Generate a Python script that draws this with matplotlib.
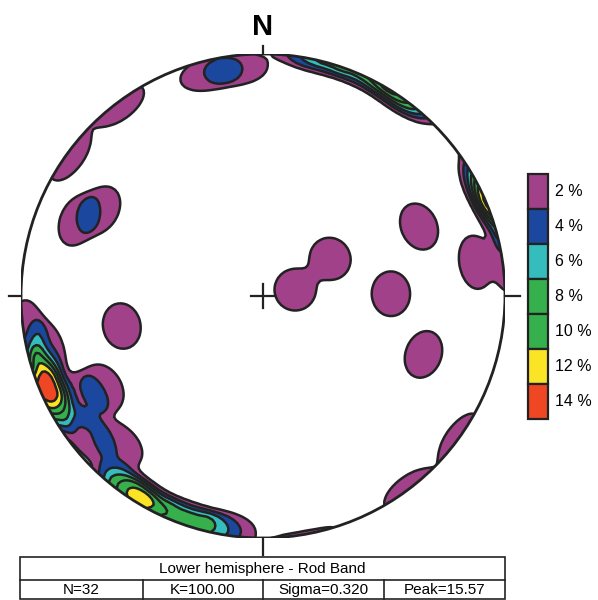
import numpy as np
import matplotlib
matplotlib.use("Agg")
import matplotlib.pyplot as plt
from matplotlib.patches import Circle, Rectangle

plt.rcParams['font.family'] = ['Liberation Sans', 'DejaVu Sans']

# rod axes (trend, plunge) in degrees
trends = [79, 61, 66, 89, 110, 258, 292, 298, 306, 323, 81, 346, 354,
          243, 249, 246, 244, 250, 256, 262, 240, 231, 224, 240,
          213, 217, 215, 209, 204, 199, 194, 189]
plunges = [79, 64, 30, 46, 30, 40, 18, 25, 1, 1, 12, 6, 6,
           1, 2, 4, 3, 5, 9, 2, 16, 8, 16, 25,
           1, 2, 4, 3, 2, 3, 2, 3]

levels = [2, 4, 6, 8, 10, 12, 14]
level_colors = ['#a0418a', '#1b479e', '#35bdbd', '#35b04c', '#35b04c', '#fbe425', '#ef4623']
level_labels = ['2 %', '4 %', '6 %', '8 %', '10 %', '12 %', '14 %']

title = "Lower hemisphere - Rod Band"
stats = ["N=32", "K=100.00", "Sigma=0.320", "Peak=15.57"]

# counting cap with a soft edge (degrees)
cap_radius = 7.65
cap_edge = 1.2

# pole unit vectors (east, north, down)
tr = np.radians(trends)
pl = np.radians(plunges)
poles = np.stack([np.cos(pl) * np.sin(tr), np.cos(pl) * np.cos(tr), np.sin(pl)], axis=1)

# grid in equal-area projection
n = 161
xs = np.linspace(-1, 1, n)
X, Y = np.meshgrid(xs, xs)
R = np.hypot(X, Y)
phi = 2 * np.arcsin(np.clip(R, 0, 1) / np.sqrt(2))
with np.errstate(invalid='ignore', divide='ignore'):
    ux = np.where(R > 0, X / R, 0.0)
    uy = np.where(R > 0, Y / R, 0.0)
grid = np.stack([np.sin(phi) * ux, np.sin(phi) * uy, np.cos(phi)], axis=-1)
ang = np.degrees(np.arccos(np.clip(np.abs(grid @ poles.T), 0, 1)))
weights = 1.0 / (1.0 + np.exp((ang - cap_radius) / cap_edge))
density = 100.0 * weights.sum(axis=-1) / len(trends)
density = np.ma.masked_where(R > 1.02, density)

fig = plt.figure(figsize=(5.98, 6.0), dpi=100)
W, H = 598.0, 600.0
cx, cy, rad = 263.0, 296.0, 242.0
ax = fig.add_axes([(cx - rad) / W, 1 - (cy + rad) / H, 2 * rad / W, 2 * rad / H])
ax.set_xlim(-1, 1)
ax.set_ylim(-1, 1)
ax.set_aspect('equal')
ax.axis('off')

ax.contourf(X, Y, density, levels=levels + [100], colors=level_colors)
ax.contour(X, Y, density, levels=levels, colors='#222222', linewidths=1.8)
clip = Circle((0, 0), 1.0, transform=ax.transData)
for coll in ax.collections:
    coll.set_clip_path(clip)
ax.add_patch(Circle((0, 0), 1.0, fill=False, lw=2, ec='#222222'))

# ticks and centre cross
tk = dict(color='#222222', lw=1.6, clip_on=False)
ax.plot([-1.05, -1.0], [0, 0], **tk)
ax.plot([1.0, 1.06], [0, 0], **tk)
ax.plot([0, 0], [1.0, 1.035], **tk)
ax.plot([0, 0], [-1.0, -1.07], **tk)
ax.plot([-0.05, 0.05], [0, 0], **tk)
ax.plot([0, 0], [-0.05, 0.05], **tk)
ax.text(0, 1.055, 'N', ha='center', va='bottom', fontsize=21, fontweight='bold')

# legend boxes
lax = fig.add_axes([0, 0, 1, 1])
lax.set_xlim(0, W)
lax.set_ylim(H, 0)
lax.axis('off')
box_top, box_h = 174.0, 35.0
for i, (c, lab) in enumerate(zip(level_colors, level_labels)):
    y0 = box_top + i * box_h
    lax.add_patch(Rectangle((528, y0), 20, box_h, fc=c, ec='#222222', lw=1.6))
    lax.text(555, y0 + box_h / 2, lab, ha='left', va='center', fontsize=11.5)

# info table
lax.add_patch(Rectangle((20, 557), 485, 42, fill=False, ec='#222222', lw=1.2))
lax.plot([20, 505], [580, 580], color='#222222', lw=1.2)
lax.text(262, 568.5, title, ha='center', va='center', fontsize=11)
edges = [20, 143, 263, 384, 505]
for i, s in enumerate(stats):
    if i > 0:
        lax.plot([edges[i], edges[i]], [580, 599], color='#222222', lw=1.2)
    lax.text((edges[i] + edges[i + 1]) / 2, 590, s, ha='center', va='center', fontsize=11)

fig.savefig('out.png', dpi=100)
